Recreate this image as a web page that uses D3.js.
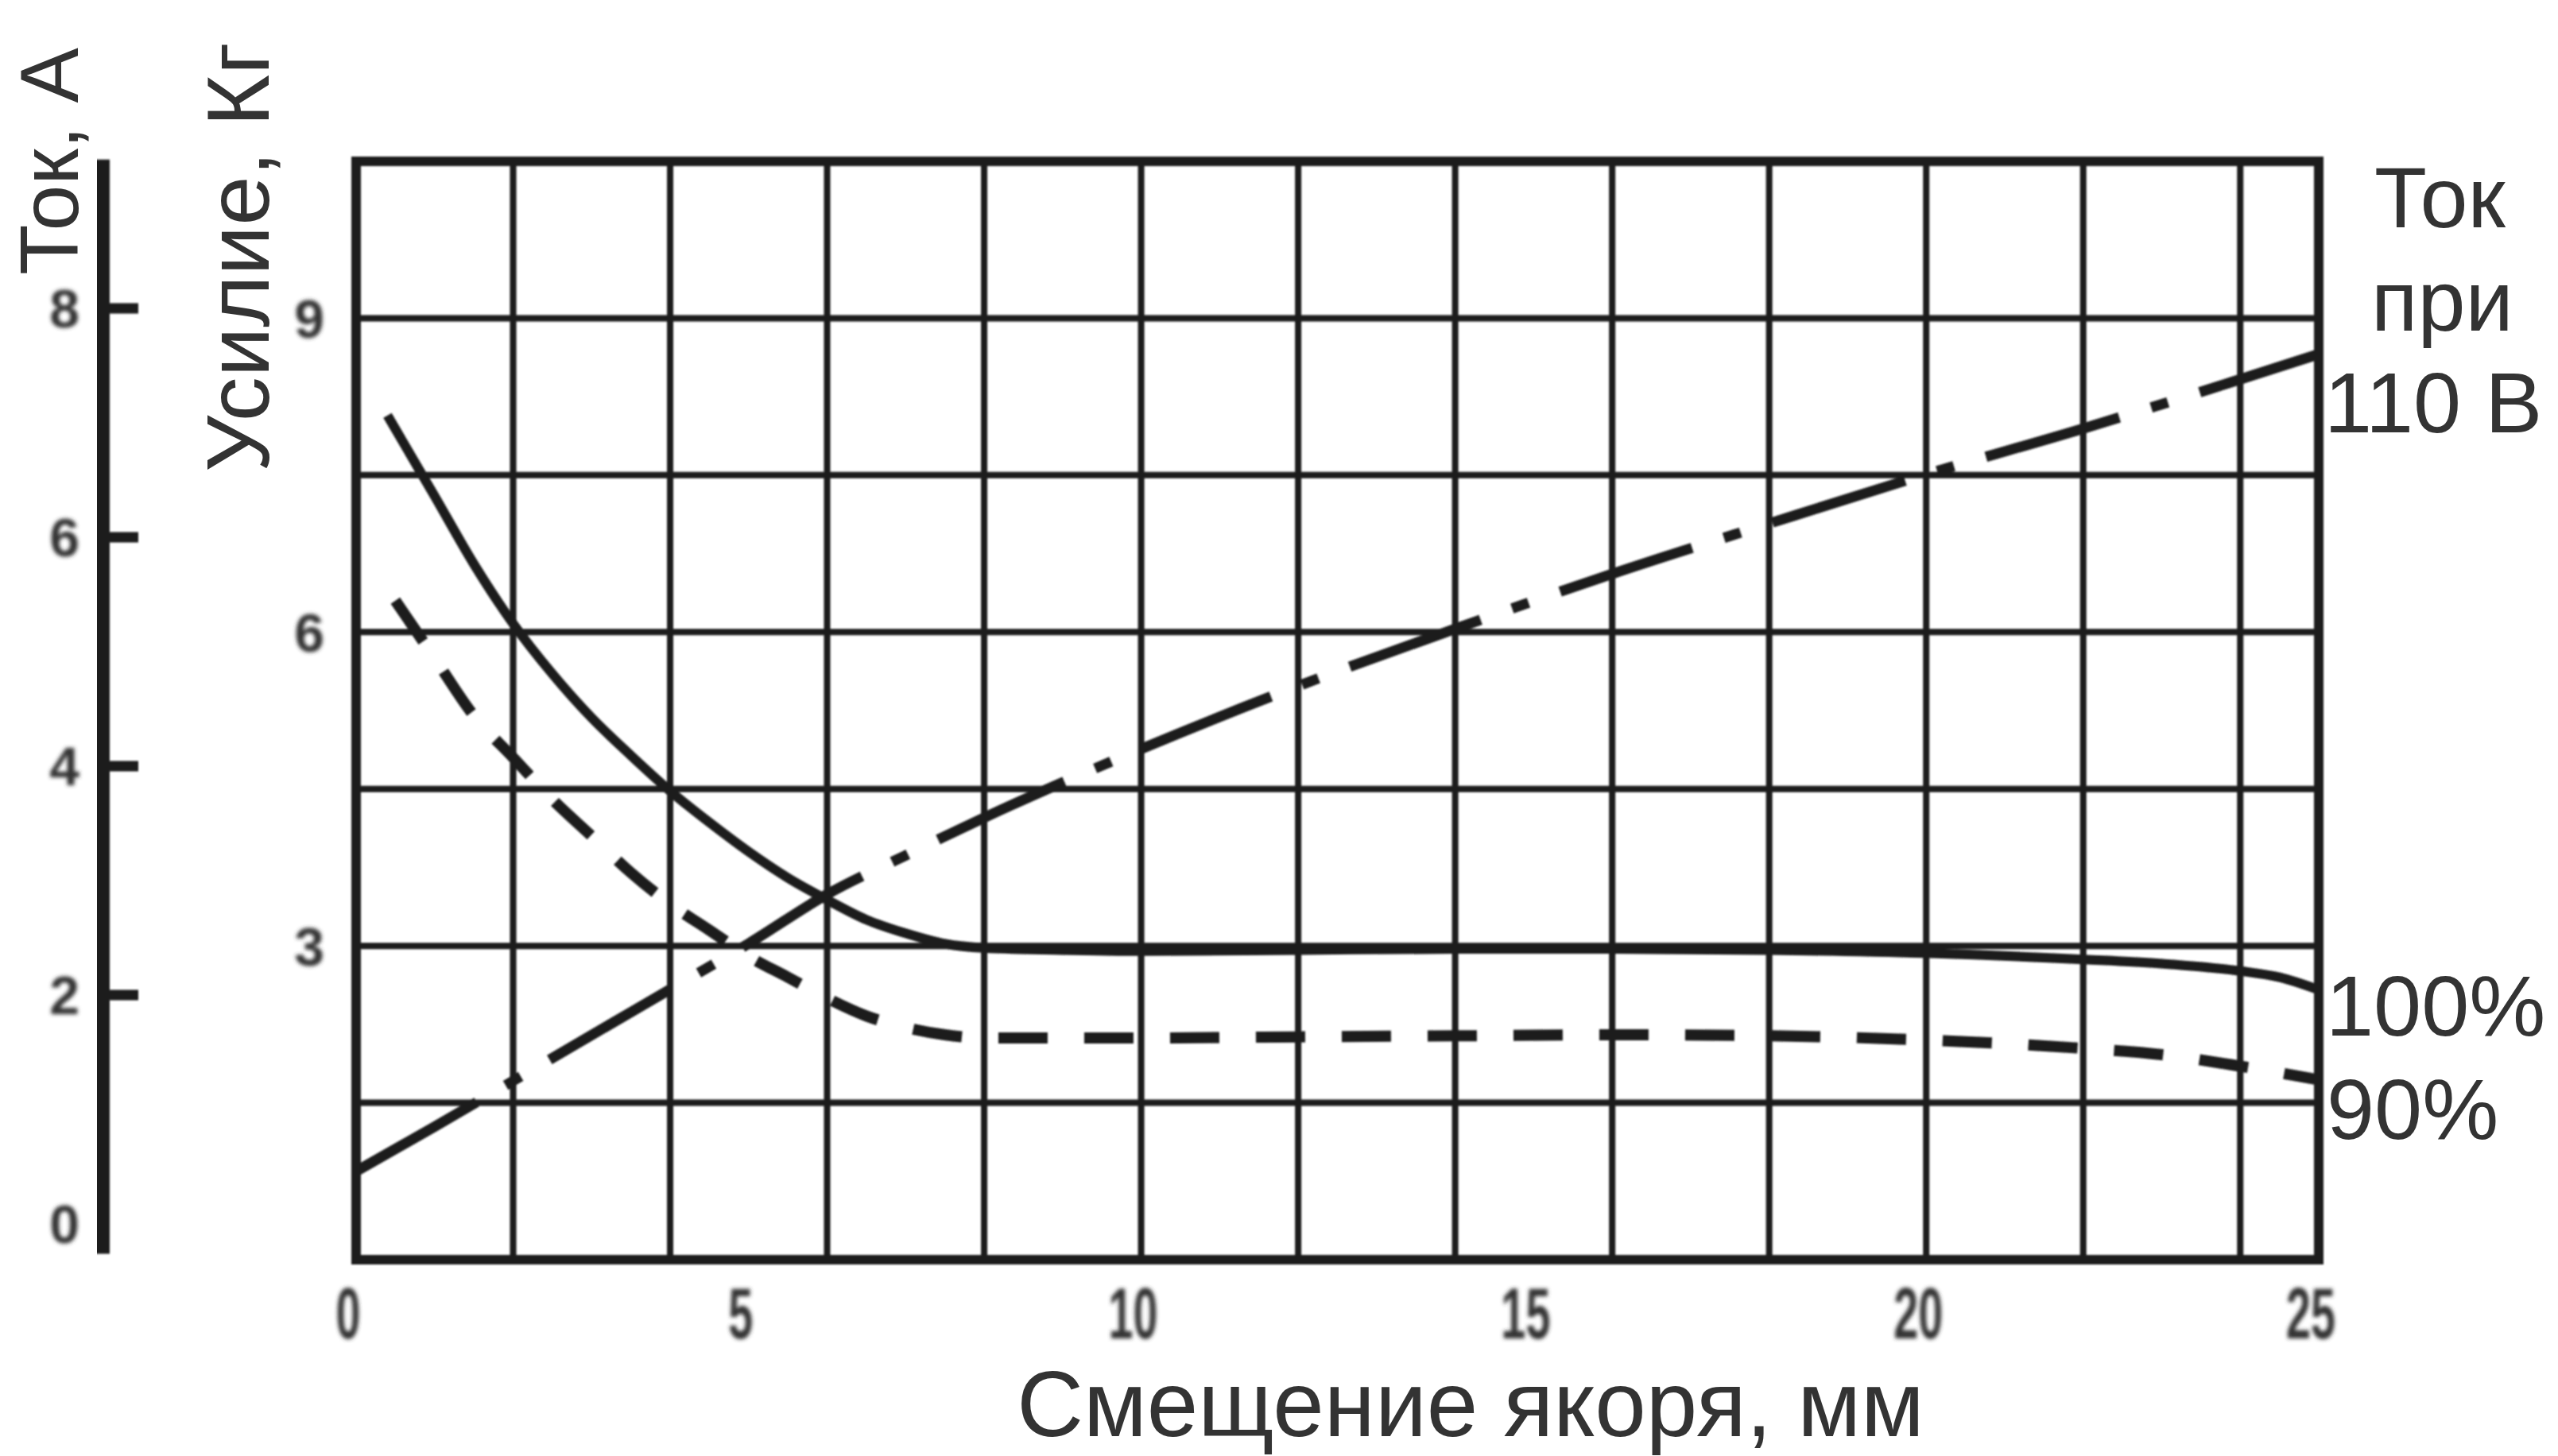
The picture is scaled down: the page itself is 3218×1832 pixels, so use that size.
<!DOCTYPE html>
<html><head><meta charset="utf-8">
<script src="https://cdn.jsdelivr.net/npm/d3@7"></script>
<style>html,body{margin:0;padding:0;background:#fff;overflow:hidden}</style>
</head><body>
<svg id="c" width="3218" height="1832"></svg>
<script>
// ---- data ----
const displacementTicks = [0, 5, 10, 15, 20, 25];
const forceTicks = [3, 6, 9];
const currentTicks = [0, 2, 4, 6, 8];
const force100X = [0.4, 1, 1.5, 2, 2.5, 3, 3.5, 4, 4.5, 5, 5.5, 6, 6.5, 7, 7.5, 8, 9, 10, 12, 14, 16, 18, 20, 22, 23, 24, 24.5, 25];
const force100Y = [8.07, 7.3, 6.65, 6.08, 5.6, 5.18, 4.82, 4.48, 4.18, 3.9, 3.65, 3.44, 3.25, 3.12, 3.02, 2.98, 2.96, 2.95, 2.96, 2.97, 2.97, 2.96, 2.93, 2.87, 2.83, 2.76, 2.7, 2.58];
const force90X = [0.5, 1, 1.5, 2, 2.5, 3, 3.5, 4, 4.5, 5, 5.5, 6, 6.5, 7, 7.5, 8, 10, 12, 14, 16, 18, 20, 22, 23, 24, 25];
const force90Y = [6.3, 5.75, 5.2, 4.8, 4.4, 4.05, 3.7, 3.4, 3.15, 2.9, 2.7, 2.5, 2.33, 2.22, 2.15, 2.12, 2.12, 2.13, 2.14, 2.15, 2.14, 2.1, 2.02, 1.96, 1.85, 1.72];
const currentX = [0, 1, 2, 3, 4, 5, 6, 7, 8, 10, 12, 14, 16, 18, 20, 22, 24, 25];
const currentY = [0.46, 0.85, 1.25, 1.65, 2.05, 2.45, 2.88, 3.22, 3.55, 4.15, 4.7, 5.2, 5.68, 6.12, 6.55, 6.95, 7.38, 7.6];
const xTitle = "Смещение якоря, мм";
const forceTitle = "Усилие, Кг";
const currentTitle = "Ток, А";
const rightLabelTop = ["Ток", "при", "110 В"];
const label100 = "100%";
const label90 = "90%";

// ---- layout ----
const svg = d3.select("#c");
svg.append("rect").attr("width", 3218).attr("height", 1832).attr("fill", "#fff");
const defs = svg.append("defs");
defs.append("filter").attr("id", "soft").append("feGaussianBlur").attr("stdDeviation", 1.3);
defs.append("filter").attr("id", "soft2").append("feGaussianBlur").attr("stdDeviation", 2.4);

const x = d3.scaleLinear().domain([0, 25]).range([448, 2917]);
const yF = d3.scaleLinear().domain([0, 10.5]).range([1585, 203]);
const yI = d3.scaleLinear().domain([0, 8]).range([1540, 388]);

const ink = "#1b1b1b";
const txt = "#333";
const plot = svg.append("g").attr("filter", "url(#soft)");

// grid
plot.append("g").selectAll("line").data(d3.range(2, 25, 2)).join("line")
  .attr("x1", d => x(d)).attr("x2", d => x(d))
  .attr("y1", yF(0)).attr("y2", yF(10.5))
  .attr("stroke", ink).attr("stroke-width", 8);
plot.append("g").selectAll("line").data(d3.range(1.5, 10.4, 1.5)).join("line")
  .attr("x1", x(0)).attr("x2", x(25))
  .attr("y1", d => yF(d)).attr("y2", d => yF(d))
  .attr("stroke", ink).attr("stroke-width", 8);
plot.append("rect")
  .attr("x", x(0)).attr("y", yF(10.5))
  .attr("width", x(25) - x(0)).attr("height", yF(0) - yF(10.5))
  .attr("fill", "none").attr("stroke", ink).attr("stroke-width", 12);

// curves
const mk = (xs, ys) => xs.map((v, i) => [v, ys[i]]);
const lineF = d3.line().x(d => x(d[0])).y(d => yF(d[1])).curve(d3.curveMonotoneX);
const lineI = d3.line().x(d => x(d[0])).y(d => yI(d[1])).curve(d3.curveMonotoneX);

plot.append("path").attr("d", lineF(mk(force100X, force100Y)))
  .attr("fill", "none").attr("stroke", ink).attr("stroke-width", 12);
plot.append("path").attr("d", lineF(mk(force90X, force90Y)))
  .attr("fill", "none").attr("stroke", ink).attr("stroke-width", 14)
  .attr("stroke-dasharray", "62,46");
plot.append("path").attr("d", lineI(mk(currentX, currentY)))
  .attr("fill", "none").attr("stroke", ink).attr("stroke-width", 13)
  .attr("stroke-dasharray", "175,42,22,42");

// current axis (left)
const axI = svg.append("g").attr("filter", "url(#soft)");
axI.append("line").attr("x1", 127).attr("x2", 127)
  .attr("y1", yI(-0.26)).attr("y2", yI(9.3))
  .attr("stroke", ink).attr("stroke-width", 22);
axI.selectAll("line.t").data(currentTicks.filter(d => d > 0)).join("line").attr("class", "t")
  .attr("x1", 127).attr("x2", 174).attr("y1", d => yI(d)).attr("y2", d => yI(d))
  .attr("stroke", ink).attr("stroke-width", 13);

const tickLbls = svg.append("g").attr("filter", "url(#soft2)")
  .attr("font-family", "Liberation Sans, Arial, sans-serif").attr("font-weight", "bold").attr("fill", txt);
tickLbls.selectAll("text.i").data(currentTicks).join("text").attr("class", "i")
  .attr("x", 100).attr("y", d => yI(d)).attr("dy", "0.36em")
  .attr("text-anchor", "end").attr("font-size", 68).text(d => d);
tickLbls.selectAll("text.f").data(forceTicks).join("text").attr("class", "f")
  .attr("x", 408).attr("y", d => yF(d)).attr("dy", "0.36em")
  .attr("text-anchor", "end").attr("font-size", 68).text(d => d);
tickLbls.selectAll("text.x").data(displacementTicks).join("text").attr("class", "x")
  .attr("transform", d => `translate(${x(d) - 10},1684) scale(0.62,1)`)
  .attr("text-anchor", "middle").attr("font-size", 90).text(d => d);

// titles
const T = svg.append("g").attr("font-family", "Liberation Sans, Arial, sans-serif").attr("fill", txt);
T.append("text").attr("transform", "translate(98,346) rotate(-90)")
  .attr("font-size", 104).text(currentTitle);
T.append("text").attr("transform", "translate(338,594) rotate(-90)")
  .attr("font-size", 112).text(forceTitle);
T.append("text").attr("x", 1850).attr("y", 1807).attr("text-anchor", "middle")
  .attr("font-size", 116).text(xTitle);
const rx = [2987, 2983, 2924], ry = [286, 416, 544];
T.selectAll("text.r").data(rightLabelTop).join("text").attr("class", "r")
  .attr("x", (d, i) => rx[i]).attr("y", (d, i) => ry[i]).attr("font-size", 108).text(d => d);
T.append("text").attr("x", 2926).attr("y", 1303).attr("font-size", 108).text(label100);
T.append("text").attr("x", 2927).attr("y", 1433).attr("font-size", 108).text(label90);
</script>
</body></html>
